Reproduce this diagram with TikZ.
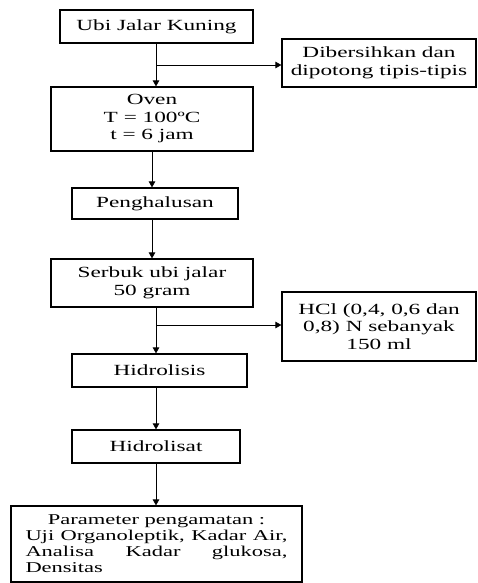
\documentclass[tikz,border=0pt]{standalone}
\usepackage{fontspec}
\setmainfont[FakeStretch=1.5]{Liberation Serif}
\usetikzlibrary{arrows.meta}
\begin{document}
\begin{tikzpicture}[x=1pt,y=-1pt,
  box/.style={draw,line width=1.2pt,rectangle,inner sep=0pt,align=center,
    font=\fontsize{15.5}{17.5}\selectfont},
  arr/.style={line width=0.8pt,-{Triangle[length=6pt,width=6.5pt]}},
  ln/.style={line width=0.8pt}]
\useasboundingbox (0,0) rectangle (477,583);
\node[box,minimum width=193pt,minimum height=33pt] (b1) at (156.5,26.5) {Ubi Jalar Kuning};
\node[box,minimum width=194pt,minimum height=48pt] (dib) at (379,63) {Dibersihkan dan\\dipotong tipis-tipis};
\node[box,minimum width=202pt,minimum height=64pt] (oven) at (152,119) {Oven\\T = 100ºC\\t = 6 jam};
\node[box,minimum width=166pt,minimum height=31pt] (peng) at (155,203.5) {Penghalusan};
\node[box,minimum width=202pt,minimum height=48pt] (serbuk) at (152,283) {Serbuk ubi jalar\\50 gram};
\node[box,minimum width=194pt,minimum height=69pt] (hcl) at (379,326.5) {HCl (0,4, 0,6 dan\\0,8) N sebanyak\\150 ml};
\node[box,minimum width=175pt,minimum height=33pt] (hlis) at (159.5,370.5) {Hidrolisis};
\node[box,minimum width=168pt,minimum height=33pt] (hsat) at (156,446.5) {Hidrolisat};
\node[box,minimum width=291pt,minimum height=76pt,text width=262pt,align=justify,
  font=\fontsize{15}{16}\selectfont] (par) at (156.5,544)
  {{\centering Parameter pengamatan :\par}Uji Organoleptik, Kadar Air,\linebreak Analisa Kadar glukosa,\linebreak Densitas};
\coordinate (ax) at (156,0);
\coordinate (ay) at (0,65);
\coordinate (az) at (0,325);
\draw[arr] (ax |- b1.south) -- (ax |- oven.north);
\draw[arr] (ax |- ay) -- (dib.west |- ay);
\draw[arr] (oven.south) -- (oven.south |- peng.north);
\draw[arr] (oven.south |- peng.south) -- (oven.south |- serbuk.north);
\draw[arr] (ax |- serbuk.south) -- (ax |- hlis.north);
\draw[arr] (ax |- az) -- (hcl.west |- az);
\draw[arr] (ax |- hlis.south) -- (ax |- hsat.north);
\draw[arr] (ax |- hsat.south) -- (ax |- par.north);
\end{tikzpicture}
\end{document}
